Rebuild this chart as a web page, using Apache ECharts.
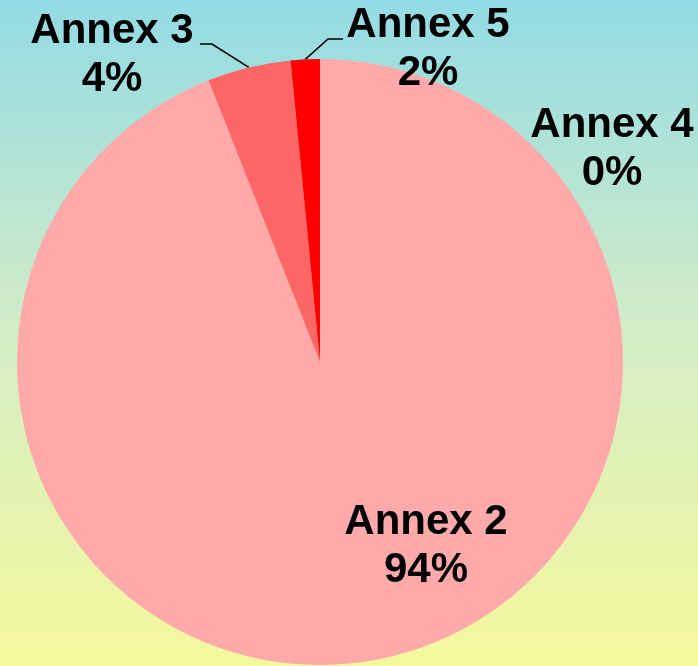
<!DOCTYPE html>
<html>
<head>
<meta charset="utf-8">
<script src="https://cdn.jsdelivr.net/npm/echarts@6/dist/echarts.min.js"></script>
<style>
html,body{margin:0;padding:0;}
#chart{width:698px;height:666px;}
</style>
</head>
<body>
<div id="chart"></div>
<script>
// Data
const categories = ['Annex 2', 'Annex 3', 'Annex 5', 'Annex 4'];
const values = [94.0, 4.45, 1.55, 0];

// Styling / layout (kept separate from data)
const sliceColors = ['#FFAAAA', '#FF6666', '#FF0000', '#CC3333'];
const labelPlacement = [
  { x: 426, y: 546, line: null },
  { x: 112, y: 55, line: { end: [88, -11], elbow: [100, -11] } },
  { x: 428, y: 49, line: { end: [-85, -10], elbow: [-100, -10] } },
  { x: 612, y: 149, line: null }
];

const chart = echarts.init(document.getElementById('chart'));
const option = {
  backgroundColor: {
    type: 'linear', x: 0, y: 0, x2: 0, y2: 1,
    colorStops: [
      { offset: 0, color: '#93DBE5' },
      { offset: 0.5, color: '#D3EDC6' },
      { offset: 1, color: '#F5F99D' }
    ]
  },
  animation: false,
  series: [{
    type: 'pie',
    center: [320, 362],
    radius: 303,
    startAngle: 90,
    clockwise: true,
    avoidLabelOverlap: false,
    stillShowZeroSum: true,
    itemStyle: { borderWidth: 0 },
    data: categories.map((c, i) => ({
      name: c,
      value: values[i],
      itemStyle: { color: sliceColors[i], borderWidth: 0 },
      labelLine: { show: !!labelPlacement[i].line }
    })),
    label: {
      show: true,
      position: 'outside',
      formatter: p => p.name + '\n' + Math.round(p.percent) + '%',
      fontFamily: 'Liberation Sans, Arial, sans-serif',
      fontWeight: 'bold',
      fontSize: 42,
      lineHeight: 48,
      color: '#000',
      align: 'center'
    },
    labelLine: {
      show: true,
      length: 10,
      length2: 10,
      lineStyle: { color: '#000', width: 1.5 }
    },
    labelLayout: function (params) {
      const pl = labelPlacement[params.dataIndex];
      const res = { x: pl.x, y: pl.y, align: 'center', verticalAlign: 'middle' };
      if (pl.line && params.labelLinePoints) {
        const start = params.labelLinePoints[0];
        res.labelLinePoints = [
          [start[0], start[1]],
          [pl.x + pl.line.elbow[0], pl.y + pl.line.elbow[1]],
          [pl.x + pl.line.end[0], pl.y + pl.line.end[1]]
        ];
      }
      return res;
    },
    emphasis: { disabled: true }
  }]
};
chart.setOption(option);
</script>
</body>
</html>
